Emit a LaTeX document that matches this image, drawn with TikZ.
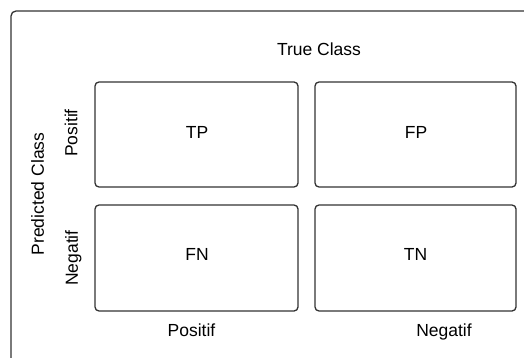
\documentclass[tikz,border=0pt]{standalone}
\usepackage{fontspec}
\setmainfont{Liberation Sans}
\begin{document}
\begin{tikzpicture}[x=1pt,y=-1pt,
  cell/.style={draw=black!80, line width=1.3pt, rounded corners=4pt},
  lbl/.style={font=\fontsize{17.5}{20}\selectfont, text height=12.5pt, text depth=0pt, inner sep=0pt, anchor=center}]
\useasboundingbox (0,0) rectangle (524,358);
\clip (0,0) rectangle (524,358);
\draw[cell, rounded corners=5pt] (11,11) rectangle (540,370);
\draw[cell] (95,82) rectangle (298,187);
\draw[cell] (315,82) rectangle (516,187);
\draw[cell] (95,205) rectangle (298,311);
\draw[cell] (315,205) rectangle (516,311);
\node[lbl] (tc) at (319,49) {True Class};
\node[lbl] (tp) at (197,132) {TP};
\node[lbl] (fp) at (416,132) {FP};
\node[lbl] (fn) at (197,254) {FN};
\node[lbl] (tn) at (415.5,254.5) {TN};
\node[lbl] (bp) at (191.5,330) {Positif};
\node[lbl] (bn) at (444,330) {Negatif};
\node[lbl, rotate=90] (pc) at (37.5,194) {Predicted Class};
\node[lbl, rotate=90] (lp) at (71,133) {Positif};
\node[lbl, rotate=90] (ln) at (71.5,258) {Negatif};
\end{tikzpicture}
\end{document}
